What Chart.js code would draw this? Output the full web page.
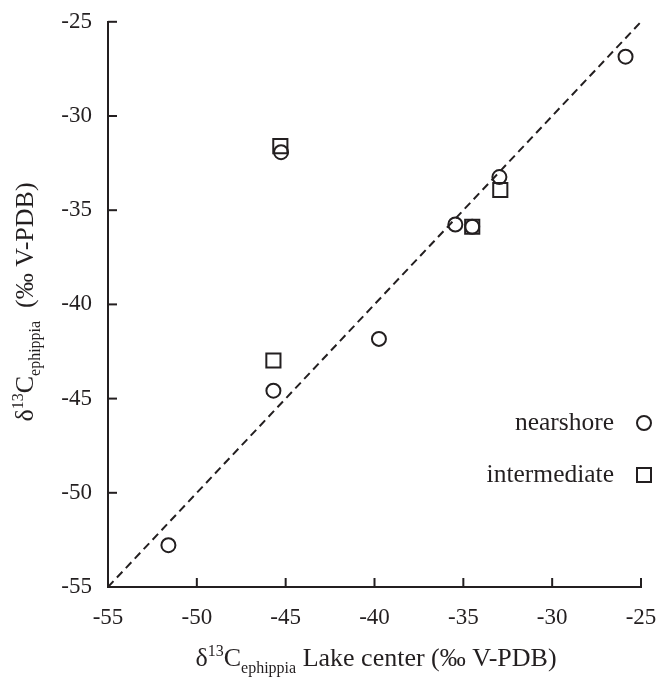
<!DOCTYPE html>
<html>
<head>
<meta charset="utf-8">
<script src="https://cdn.jsdelivr.net/npm/chart.js"></script>
<style>
  html, body { margin: 0; padding: 0; background: #fff; overflow: hidden; }
  #wrap { width: 690px; height: 679px; }
</style>
</head>
<body>
<div id="wrap"><canvas id="chart" width="690" height="679"></canvas></div>
<script>
// nearshore vs lake center values (per mil)
const nearshoreX = [-25.87, -45.26, -32.97, -35.45, -34.5, -39.75, -45.69, -51.6];
const nearshoreY = [-26.85, -31.92, -33.24, -35.76, -35.88, -41.83, -44.58, -52.78];

// intermediate vs lake center values
const intermediateX = [-45.3, -32.92, -34.5, -45.69];
const intermediateY = [-31.6, -33.93, -35.88, -42.98];

// 1:1 line end points
const refLine = [-55, -25];

// axis ticks (same on both axes)
const tickValues = [-55, -50, -45, -40, -35, -30, -25];

const seriesLabels = ['nearshore', 'intermediate'];

const ink = '#231f20';
const serif = '"Liberation Serif", "Times New Roman", serif';

function toPoints(xs, ys) {
    return xs.map((x, i) => ({ x: x, y: ys[i] }));
}

// draw a run of text pieces (for super/subscripts)
function drawPieces(ctx, pieces, cx, baseline) {
    let total = 0;
    pieces.forEach(p => {
        ctx.font = p.size + 'px ' + serif;
        p.w = ctx.measureText(p.t).width;
        total += p.w;
    });
    let x = cx - total / 2;
    ctx.textAlign = 'left';
    ctx.textBaseline = 'alphabetic';
    pieces.forEach(p => {
        ctx.font = p.size + 'px ' + serif;
        ctx.fillText(p.t, x, baseline + (p.dy || 0));
        x += p.w;
    });
}

const decorPlugin = {
    id: 'decor',
    afterDraw(chart) {
        const ctx = chart.ctx;
        const xs = chart.scales.x;
        const ys = chart.scales.y;
        ctx.save();
        ctx.strokeStyle = ink;
        ctx.fillStyle = ink;
        ctx.lineWidth = 2;

        // inward tick marks
        const tickLen = 9;
        tickValues.forEach(v => {
            const px = xs.getPixelForValue(v);
            ctx.beginPath();
            ctx.moveTo(px, ys.bottom);
            ctx.lineTo(px, ys.bottom - tickLen);
            ctx.stroke();
            const py = ys.getPixelForValue(v);
            ctx.beginPath();
            ctx.moveTo(xs.left, py);
            ctx.lineTo(xs.left + tickLen, py);
            ctx.stroke();
        });

        // axis titles
        const main = 26, small = 16;
        drawPieces(ctx, [
            { t: 'δ', size: main },
            { t: '13', size: small, dy: -10 },
            { t: 'C', size: main },
            { t: 'ephippia', size: small, dy: 7 },
            { t: ' Lake center (‰ V-PDB)', size: main }
        ], 376, 666);

        ctx.save();
        ctx.translate(33, 302);
        ctx.rotate(-Math.PI / 2);
        drawPieces(ctx, [
            { t: 'δ', size: main },
            { t: '13', size: small, dy: -10 },
            { t: 'C', size: main },
            { t: 'ephippia', size: small, dy: 7 },
            { t: '  (‰ V-PDB)', size: main }
        ], 0, 0);
        ctx.restore();

        // legend: text then marker
        const rows = [
            { label: seriesLabels[0], style: 'circle', y: 423 },
            { label: seriesLabels[1], style: 'rect', y: 475 }
        ];
        ctx.font = '25.5px ' + serif;
        ctx.textAlign = 'right';
        ctx.textBaseline = 'middle';
        rows.forEach(r => {
            ctx.fillText(r.label, 614, r.y);
            ctx.beginPath();
            if (r.style === 'circle') {
                ctx.arc(644, r.y, 7, 0, Math.PI * 2);
            } else {
                ctx.rect(637, r.y - 7, 14, 14);
            }
            ctx.stroke();
        });
        ctx.restore();
    }
};

new Chart(document.getElementById('chart'), {
    type: 'scatter',
    data: {
        datasets: [
            {
                label: '1:1',
                type: 'line',
                data: toPoints(refLine, refLine),
                borderColor: ink,
                borderWidth: 2,
                borderDash: [8, 5],
                pointRadius: 0,
                fill: false
            },
            {
                label: seriesLabels[0],
                data: toPoints(nearshoreX, nearshoreY),
                pointStyle: 'circle',
                pointRadius: 7,
                borderWidth: 2,
                borderColor: ink,
                backgroundColor: 'rgba(0,0,0,0)'
            },
            {
                label: seriesLabels[1],
                data: toPoints(intermediateX, intermediateY),
                pointStyle: 'rect',
                pointRadius: 10,
                borderWidth: 2,
                borderColor: ink,
                backgroundColor: 'rgba(0,0,0,0)'
            }
        ]
    },
    options: {
        responsive: false,
        animation: false,
        layout: { padding: { top: 19, right: 49, left: 0, bottom: 0 } },
        plugins: {
            legend: { display: false },
            tooltip: { enabled: false }
        },
        scales: {
            x: {
                type: 'linear',
                min: -55,
                max: -25,
                grid: { display: false },
                border: { display: true, color: ink, width: 2 },
                ticks: {
                    stepSize: 5,
                    padding: 9,
                    color: ink,
                    font: { family: serif, size: 23 }
                },
                afterFit(scale) { scale.height = 92; }
            },
            y: {
                type: 'linear',
                min: -55,
                max: -25,
                grid: { display: false },
                border: { display: true, color: ink, width: 2 },
                ticks: {
                    stepSize: 5,
                    padding: 8,
                    color: ink,
                    font: { family: serif, size: 23 }
                },
                afterFit(scale) { scale.width = 108; }
            }
        }
    },
    plugins: [decorPlugin]
});
</script>
</body>
</html>
